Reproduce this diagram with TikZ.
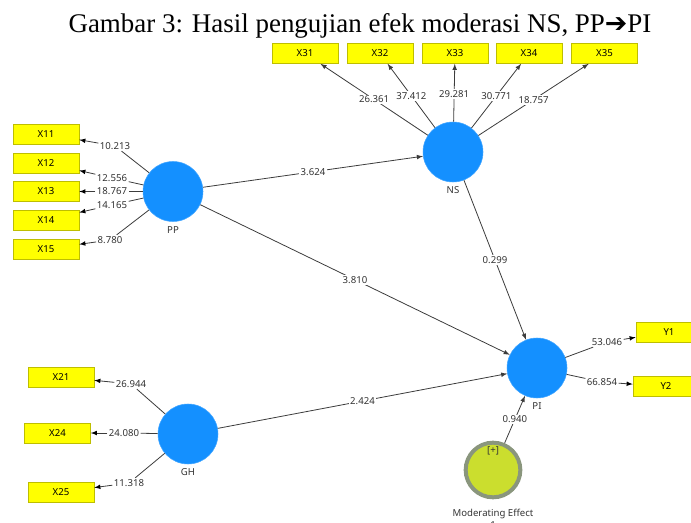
\documentclass[tikz,border=0pt]{standalone}
\usepackage{fontspec}
\setmainfont{Liberation Serif}
\newfontfamily\plsfont{Noto Sans}
\newfontfamily\arrowfont{DejaVu Sans}
\usetikzlibrary{positioning}

\definecolor{lvblue}{RGB}{20,144,255}
\definecolor{mvyellow}{RGB}{255,255,0}
\definecolor{mvborder}{RGB}{190,190,0}
\definecolor{modfill}{RGB}{203,222,46}
\definecolor{modborder}{RGB}{138,150,125}
\definecolor{edgegray}{RGB}{60,60,60}

\begin{document}
\begin{tikzpicture}[x=0.75pt,y=-0.75pt,>=latex]

        \tikzstyle{latent} = [circle, fill=lvblue, draw=lvblue!80!white, minimum size=45pt, inner sep=0pt,
            label distance=2pt]
        \tikzstyle{lvname} = [text=black!80, font=\plsfont\fontsize{7.2}{9}\selectfont]
        \tikzstyle{indicator} = [rectangle, fill=mvyellow, draw=mvborder, minimum width=49.5pt,
            minimum height=15pt, inner sep=0pt, font=\plsfont\fontsize{7.2}{9}\selectfont]
        \tikzstyle{coef} = [fill=white, inner sep=1pt, text=black!80, font=\plsfont\fontsize{7.2}{9}\selectfont]
        \tikzstyle{link} = [draw=edgegray, line width=0.6pt]

        \useasboundingbox (0,0) rectangle (691,523);

        \node[font=\fontsize{20.2}{23}\selectfont] (title) at (360,26)
            {Gambar 3: Hasil pengujian efek moderasi NS, PP{\arrowfont ➔}PI};

        % latent variables
        \node[latent, label={[lvname]below:NS}] (ns) at (453,152) {};
        \node[latent, label={[lvname]below:PP}] (pp) at (173,191.5) {};
        \node[latent, label={[lvname]below:GH}] (gh) at (188,434) {};
        \node[latent, label={[lvname]below:PI}] (pi) at (537,368) {};
        \node[circle, fill=modfill, draw=modborder, line width=3pt, minimum size=41pt, inner sep=0pt] (mod) at (493,470) {};
        \node[lvname] (modplus) at (493,451) {[+]};
        \node[lvname, align=center] (modname) at (493,519) {Moderating Effect\\1};

        % indicators
        \node[indicator] (x31) at (305,53.5)   {X31};
        \node[indicator] (x32) at (380,53.5)   {X32};
        \node[indicator] (x33) at (455,53.5)   {X33};
        \node[indicator] (x34) at (529,53.5)   {X34};
        \node[indicator] (x35) at (604.5,53.5) {X35};

        \node[indicator] (x11) at (46,134)   {X11};
        \node[indicator] (x12) at (46,163)   {X12};
        \node[indicator] (x13) at (46,191.5) {X13};
        \node[indicator] (x14) at (46,220)   {X14};
        \node[indicator] (x15) at (46,249)   {X15};

        \node[indicator] (x21) at (61,377)   {X21};
        \node[indicator] (x24) at (57.5,433) {X24};
        \node[indicator] (x25) at (61,492)   {X25};

        \node[indicator] (y1) at (669,332)   {Y1};
        \node[indicator] (y2) at (666,386.5) {Y2};

        % loadings
        \node[coef] (c11) at (115,146) {10.213};
        \node[coef] (c12) at (112,178) {12.556};
        \node[coef] (c13) at (112,191.5) {18.767};
        \node[coef] (c14) at (112,205) {14.165};
        \node[coef] (c15) at (110,240) {8.780};
        \node[coef] (c21) at (131,384) {26.944};
        \node[coef] (c24) at (124,433) {24.080};
        \node[coef] (c25) at (129,483) {11.318};
        \node[coef] (cy1) at (607,342) {53.046};
        \node[coef] (cy2) at (602,382) {66.854};

        \foreach \m/\k in {11/11,12/12,13/13,14/14,15/15}
            \draw[link] (pp) -- (c\k) (c\k) edge[->] (x\m);
        \foreach \m in {21,24,25}
            \draw[link] (gh) -- (c\m) (c\m) edge[->] (x\m);
        \draw[link] (pi) -- (cy1) (cy1) edge[->] (y1);
        \draw[link] (pi) -- (cy2) (cy2) edge[->] (y2);

        \draw[link,->] (ns) -- (x31) node[coef,pos=0.5]  {26.361};
        \draw[link,->] (ns) -- (x32) node[coef,pos=0.5]  {37.412};
        \draw[link,->] (ns) -- (x33) node[coef,pos=0.48] {29.281};
        \draw[link,->] (ns) -- (x34) node[coef,pos=0.5]  {30.771};
        \draw[link,->] (ns) -- (x35) node[coef,pos=0.5]  {18.757};

        % paths
        \draw[link,->] (pp)  -- (ns) node[coef,midway] {3.624};
        \draw[link,->] (pp)  -- (pi) node[coef,midway] {3.810};
        \draw[link,->] (ns)  -- (pi) node[coef,midway] {0.299};
        \draw[link,->] (gh)  -- (pi) node[coef,midway] {2.424};
        \draw[link,->] (mod) -- (pi) node[coef,midway] {0.940};

\end{tikzpicture}
\end{document}
